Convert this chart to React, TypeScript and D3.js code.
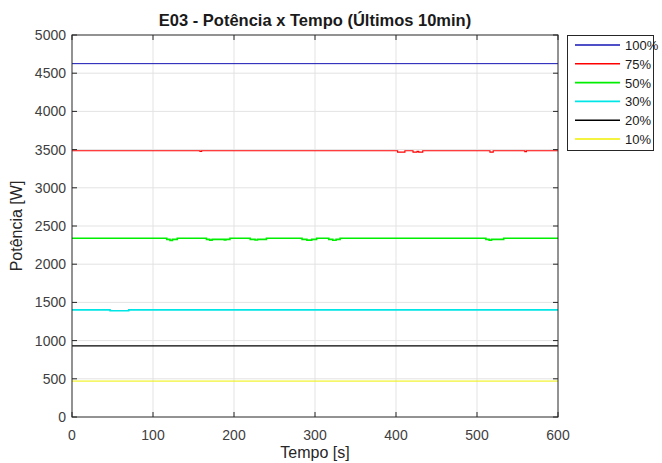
import React, { useEffect, useRef } from "react";
import * as d3 from "d3";

// breakpoints [tempo s, potencia W], drawn as steps
const s100: [number, number][] = [[0, 4625], [600, 4625]];
const s75: [number, number][] = [
  [0, 3485], [158, 3478], [160, 3485], [402, 3468], [411, 3485],
  [421, 3468], [426, 3476], [428, 3468], [433, 3485],
  [516, 3468], [520, 3485], [559, 3474], [561, 3485], [600, 3485],
];
const s50: [number, number][] = [
  [0, 2340], [117, 2325], [121, 2312], [124, 2325], [130, 2340],
  [166, 2325], [170, 2315], [173, 2325], [188, 2318], [190, 2325], [195, 2340],
  [220, 2325], [226, 2316], [229, 2325], [240, 2340],
  [284, 2325], [290, 2315], [296, 2325], [302, 2340],
  [317, 2325], [322, 2314], [326, 2325], [331, 2340],
  [511, 2325], [515, 2315], [518, 2325], [533, 2340], [600, 2340],
];
const s30: [number, number][] = [[0, 1402], [47, 1390], [70, 1402], [600, 1402]];
const s20: [number, number][] = [[0, 930], [600, 930]];
const s10: [number, number][] = [[0, 470], [600, 470]];

const labels = ["100%", "75%", "50%", "30%", "20%", "10%"];
const colors = ["#1414b4", "#ff0000", "#00ee00", "#00e5e5", "#000000", "#f0f000"];
const widths = [1, 1.2, 1.6, 1.6, 1.2, 1];
const series = [s100, s75, s50, s30, s20, s10];

const xTicks = [0, 100, 200, 300, 400, 500, 600];
const yTicks = [0, 500, 1000, 1500, 2000, 2500, 3000, 3500, 4000, 4500, 5000];

const App = () => {
  const ref = useRef<SVGSVGElement>(null);

  useEffect(() => {
    const svg = d3.select(ref.current);
    svg.selectAll("*").remove();

    const left = 72, right = 558, top = 35, bottom = 417;
    const x = d3.scaleLinear().domain([0, 600]).range([left, right]);
    const y = d3.scaleLinear().domain([0, 5000]).range([bottom, top]);
    const font = "Liberation Sans, Arial, sans-serif";

    svg.append("rect").attr("x", left).attr("y", top)
      .attr("width", right - left).attr("height", bottom - top).attr("fill", "#fff");

    // grid
    const g = svg.append("g").attr("stroke", "#e3e3e3").attr("stroke-width", 1);
    xTicks.slice(1, -1).forEach((t) => {
      g.append("line").attr("x1", x(t)).attr("x2", x(t)).attr("y1", top).attr("y2", bottom);
    });
    yTicks.slice(1, -1).forEach((t) => {
      g.append("line").attr("x1", left).attr("x2", right).attr("y1", y(t)).attr("y2", y(t));
    });

    // lines
    const line = d3.line<[number, number]>()
      .x((d) => x(d[0]))
      .y((d) => y(d[1]))
      .curve(d3.curveStepAfter);
    series.forEach((s, i) => {
      svg.append("path").attr("d", line(s)).attr("fill", "none")
        .attr("stroke", colors[i]).attr("stroke-width", widths[i]);
    });

    // axes box and ticks
    const ax = svg.append("g").attr("stroke", "#262626").attr("stroke-width", 1).attr("fill", "none");
    ax.append("rect").attr("x", left).attr("y", top)
      .attr("width", right - left).attr("height", bottom - top);
    xTicks.forEach((t) => {
      ax.append("line").attr("x1", x(t)).attr("x2", x(t)).attr("y1", bottom).attr("y2", bottom - 5);
      ax.append("line").attr("x1", x(t)).attr("x2", x(t)).attr("y1", top).attr("y2", top + 5);
    });
    yTicks.forEach((t) => {
      ax.append("line").attr("x1", left).attr("x2", left + 5).attr("y1", y(t)).attr("y2", y(t));
      ax.append("line").attr("x1", right).attr("x2", right - 5).attr("y1", y(t)).attr("y2", y(t));
    });

    const txt = svg.append("g").attr("font-family", font).attr("fill", "#404040").attr("font-size", 14);
    xTicks.forEach((t) => {
      txt.append("text").attr("x", x(t)).attr("y", bottom + 23).attr("text-anchor", "middle").text(t);
    });
    yTicks.forEach((t) => {
      txt.append("text").attr("x", left - 6).attr("y", y(t) + 5).attr("text-anchor", "end").text(t);
    });

    svg.append("text").attr("x", (left + right) / 2).attr("y", 26)
      .attr("text-anchor", "middle").attr("font-family", font).attr("font-weight", "bold")
      .attr("font-size", 16.5).attr("fill", "#1a1a1a")
      .text("E03 - Potência x Tempo (Últimos 10min)");

    svg.append("text").attr("x", (left + right) / 2).attr("y", 458)
      .attr("text-anchor", "middle").attr("font-family", font)
      .attr("font-size", 16).attr("fill", "#262626").text("Tempo [s]");

    svg.append("text").attr("transform", `translate(22, ${(top + bottom) / 2}) rotate(-90)`)
      .attr("text-anchor", "middle").attr("font-family", font)
      .attr("font-size", 16).attr("fill", "#262626").text("Potência [W]");

    // legend
    const lg = svg.append("g");
    lg.append("rect").attr("x", 567.5).attr("y", 35.5).attr("width", 86).attr("height", 115)
      .attr("fill", "#fff").attr("stroke", "#262626").attr("stroke-width", 1);
    labels.forEach((l, i) => {
      const yy = 45 + i * 18.8;
      lg.append("line").attr("x1", 575).attr("x2", 620).attr("y1", yy).attr("y2", yy)
        .attr("stroke", colors[i]).attr("stroke-width", widths[i] + 0.3);
      lg.append("text").attr("x", 625).attr("y", yy + 5).attr("font-family", font)
        .attr("font-size", 13).attr("fill", "#1a1a1a").text(l);
    });
  }, []);

  return (
    <svg ref={ref} width={662} height={463}
      style={{ position: "absolute", left: 0, top: 0, background: "#fff" }} />
  );
};

export default App;
